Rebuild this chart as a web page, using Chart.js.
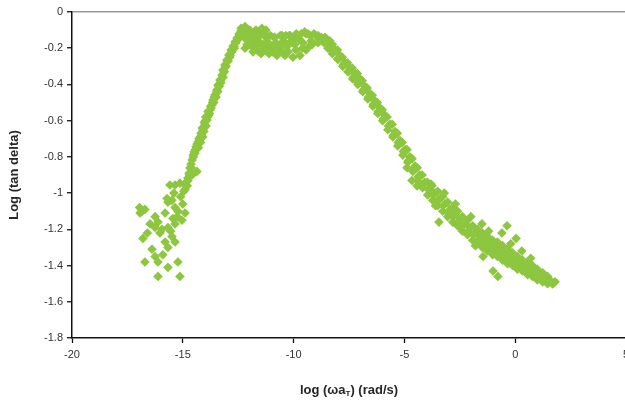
<!DOCTYPE html>
<html>
<head>
<meta charset="utf-8">
<script src="https://cdn.jsdelivr.net/npm/chart.js@4.4.1/dist/chart.umd.min.js"></script>
<style>
  html, body { margin: 0; padding: 0; background: #fff; overflow: hidden; }
  #wrap { width: 640px; height: 406px; }
</style>
</head>
<body>
<div id="wrap"><canvas id="c" width="640" height="406"></canvas></div>
<script>
// Tick values for both axes
const xTickValues = [-20, -15, -10, -5, 0, 5];
const yTickValues = [0, -0.2, -0.4, -0.6, -0.8, -1, -1.2, -1.4, -1.6, -1.8];

// Low-frequency end: scattered points
const lowX = [-16.93,-16.84,-16.71,-16.48,-16.25,-16.12,-15.80,-15.67,-15.35,-15.49,-15.71,-15.35,-15.13,-14.90,-14.77,-14.58,-14.36,-15.58,-15.94,-15.67,-15.35,-15.04,-14.90,-15.22,-15.49,-15.67,-15.35,-15.80,-16.03,-16.25,-16.39,-16.25,-16.12,-16.80,-16.71,-16.12,-15.67,-15.22,-15.13,-16.60,-16.95,-15.90,
  -15.45,-15.25,-15.10,-15.55,-15.00,-15.40];
const lowY = [-1.11,-1.10,-1.09,-1.17,-1.13,-1.16,-1.11,-1.05,-1.08,-1.04,-1.03,-0.955,-0.945,-0.98,-0.93,-0.90,-0.88,-0.955,-1.20,-1.19,-1.17,-1.15,-1.11,-1.10,-1.24,-1.30,-1.27,-1.27,-1.22,-1.19,-1.31,-1.35,-1.38,-1.25,-1.38,-1.46,-1.41,-1.38,-1.46,-1.22,-1.08,-1.34,
  -1.14,-1.13,-1.02,-1.21,-1.06,-1.00];

// Rising flank
const riseX = [-14.90,-14.77,-14.68,-14.58,-14.49,-14.40,-14.31,-14.22,-14.09,-14.00,-13.91,-13.82,-13.77,-13.68,-13.64,-13.55,-13.46,-13.41,-13.32,-13.23,-13.19,-13.10,-13.01,-12.92,-12.82,-12.73,-12.64,-12.55,-12.46,-12.37,-12.28,
  -14.95,-14.80,-14.70,-14.62,-14.52,-14.45,-14.35,-14.25,-14.15,-14.05,-13.95,-13.88,-13.80,-13.72,-13.60,-13.50,-13.42,-13.35,-13.28,-13.18,-13.12,-13.05,-12.97,-12.88,-12.78,-12.68,-12.60,-12.50,-12.42,
  -14.85,-14.72,-14.63,-14.53,-14.44,-14.36,-14.27,-14.18,-14.12,-14.03,-13.97,-13.86,-13.74,-13.66,-13.58,-13.48,-13.38,-13.30,-13.21,-13.14,-13.06,-12.96,-12.86,-12.77,-12.69,-12.59,-12.51,-12.43,-12.33,-14.30,-14.20,-14.10,-13.98];
const riseY = [-0.955,-0.917,-0.861,-0.817,-0.773,-0.745,-0.718,-0.690,-0.652,-0.624,-0.596,-0.569,-0.541,-0.513,-0.486,-0.458,-0.431,-0.403,-0.375,-0.348,-0.320,-0.292,-0.265,-0.237,-0.210,-0.188,-0.166,-0.144,-0.121,-0.105,-0.094,
  -0.99,-0.96,-0.90,-0.86,-0.80,-0.78,-0.74,-0.71,-0.68,-0.66,-0.63,-0.58,-0.56,-0.53,-0.50,-0.47,-0.44,-0.41,-0.39,-0.36,-0.33,-0.30,-0.27,-0.25,-0.22,-0.20,-0.17,-0.15,-0.13,
  -0.94,-0.89,-0.84,-0.79,-0.76,-0.73,-0.70,-0.67,-0.64,-0.61,-0.58,-0.55,-0.52,-0.50,-0.47,-0.44,-0.41,-0.38,-0.36,-0.33,-0.30,-0.27,-0.24,-0.21,-0.19,-0.16,-0.14,-0.12,-0.10,-0.75,-0.72,-0.69,-0.60];

// Plateau around the maximum
const peakX = [-12.37,-12.19,-11.97,-11.70,-11.43,-11.25,
  -11.97,-11.61,-11.25,-10.88,-10.52,-10.16,-9.80,-9.44,-9.08,
  -12.10,-11.74,-11.38,-11.02,-10.66,-10.30,-9.94,-9.58,-9.21,-8.85,
  -12.19,-11.83,-11.47,-11.11,-10.75,-10.39,-10.03,-9.71,-9.44,-9.17,-8.90,-8.63,
  -9.26,-8.90,-8.58,-8.36,
  -11.85,-11.50,-11.15,-10.80,-10.45,-10.10,-9.75,-12.30,-12.05,
  -12.25,-12.00,-11.80,-11.55,-11.30,-11.05,-10.85,-10.60,-10.35,-10.20,-9.98,-9.88,-9.65,-9.50,-9.35,-9.00,-8.75,-8.50,
  -12.15,-11.90,-11.65,-11.40,-11.20,-10.95,-10.70,-10.50,-10.25,-9.90,-9.60,-9.30,
  -11.60,-11.35,-11.10,-10.90,-10.60,-10.35,-10.05];
const peakY = [-0.09,-0.08,-0.10,-0.10,-0.09,-0.10,
  -0.14,-0.14,-0.14,-0.14,-0.13,-0.13,-0.13,-0.12,-0.12,
  -0.18,-0.19,-0.19,-0.20,-0.20,-0.19,-0.18,-0.17,-0.16,-0.15,
  -0.20,-0.22,-0.23,-0.23,-0.24,-0.24,-0.25,-0.24,-0.21,-0.18,-0.17,-0.17,
  -0.13,-0.13,-0.14,-0.16,
  -0.16,-0.17,-0.17,-0.17,-0.16,-0.16,-0.15,-0.13,-0.12,
  -0.11,-0.13,-0.13,-0.12,-0.12,-0.13,-0.14,-0.13,-0.13,-0.13,-0.14,-0.12,-0.12,-0.11,-0.12,-0.13,-0.14,-0.15,
  -0.15,-0.19,-0.21,-0.21,-0.21,-0.22,-0.22,-0.22,-0.22,-0.21,-0.20,-0.19,
  -0.17,-0.18,-0.18,-0.19,-0.18,-0.18,-0.17];

// Falling flank towards high frequency
const fallX = [-8.36,-8.13,-7.91,-7.68,-7.45,-7.23,-7.00,-6.78,-6.55,-6.33,-6.10,-5.88,-5.65,-5.42,-5.20,-4.97,-4.75,-4.52,-4.30,-4.07,-3.84,-3.62,-3.39,-3.17,-2.94,-2.72,-2.49,-2.27,-2.04,-1.81,-1.59,-1.36,-1.14,-0.91,-0.69,-0.46,-0.23,-0.01,0.22,0.44,0.67,0.89,1.12,1.35,1.57,1.80,
  -8.50,-8.25,-8.02,-7.80,-7.57,-7.35,-7.12,-6.90,-6.68,-6.45,-6.22,-6.00,-5.78,-5.55,-5.32,-5.10,-4.88,-4.65,-4.42,-4.20,-3.96,-3.75,-3.50,-3.28,-3.05,-2.82,-2.60,-2.38,-2.15,-1.92,-1.70,-1.48,-1.25,-1.02,-0.80,-0.57,-0.34,-0.12,0.10,0.33,0.56,0.78,1.00,1.24,1.46,
  -8.25,-8.02,-7.78,-7.55,-7.33,-7.10,-6.88,-6.65,-6.42,-6.20,-5.98,-5.75,-5.52,-5.30,-5.07,-4.85,-4.62,-4.40,-4.18,-3.95,-3.72,-3.50,-3.27,-3.05,-2.82,-2.60,-2.38,-2.15,-1.92,-1.70,-1.48,-1.25,-1.02,-0.80,-0.57,-0.34,-0.12,0.10,0.33,0.56,0.78,1.00,1.24,1.46,1.68,
  -8.45,-8.20,-7.98,-7.75,-7.52,-7.30,-7.08,-6.85,-6.62,-6.40,-6.18,-5.95,-5.72,-5.50,-5.28,-5.05,-4.82,-4.60,-4.38,-4.15,-3.92,-3.70,-3.48,-3.25,-3.02,-2.80,-2.58,-2.35,-2.12,-1.90,-1.68,-1.45,-1.22,-1.00,-0.78,-0.55,-0.32,-0.10,0.12,0.35,0.58,0.80,1.02,1.25,1.50,1.70,
  -4.88,-4.66,-4.43,-3.44,-1.45,-1.00,-0.78,-0.37,0.04,-1.50,-0.60,
  -3.80,-3.20,-2.70,-2.00,-1.20,-0.90,-0.20,0.30,0.70,-2.50,-3.60,-1.80];
const fallY = [-0.18,-0.21,-0.24,-0.28,-0.31,-0.34,-0.37,-0.41,-0.45,-0.49,-0.53,-0.57,-0.62,-0.66,-0.71,-0.76,-0.80,-0.85,-0.90,-0.94,-0.98,-1.00,-1.03,-1.06,-1.09,-1.12,-1.14,-1.17,-1.19,-1.22,-1.24,-1.26,-1.28,-1.30,-1.31,-1.33,-1.35,-1.36,-1.38,-1.40,-1.41,-1.43,-1.45,-1.46,-1.48,-1.49,
  -0.16,-0.18,-0.21,-0.25,-0.28,-0.31,-0.34,-0.38,-0.42,-0.46,-0.50,-0.54,-0.58,-0.62,-0.67,-0.72,-0.76,-0.81,-0.86,-0.90,-0.94,-0.96,-0.99,-1.02,-1.05,-1.08,-1.10,-1.13,-1.15,-1.18,-1.20,-1.22,-1.24,-1.26,-1.27,-1.29,-1.31,-1.33,-1.35,-1.37,-1.38,-1.40,-1.42,-1.44,-1.46,
  -0.23,-0.26,-0.30,-0.33,-0.37,-0.40,-0.44,-0.48,-0.52,-0.56,-0.60,-0.65,-0.69,-0.74,-0.79,-0.83,-0.88,-0.93,-0.97,-1.01,-1.04,-1.07,-1.10,-1.13,-1.16,-1.18,-1.21,-1.23,-1.26,-1.28,-1.30,-1.32,-1.34,-1.35,-1.37,-1.39,-1.40,-1.42,-1.43,-1.45,-1.46,-1.48,-1.49,-1.50,-1.50,
  -0.20,-0.22,-0.26,-0.29,-0.33,-0.36,-0.39,-0.43,-0.47,-0.51,-0.55,-0.59,-0.63,-0.68,-0.72,-0.77,-0.82,-0.87,-0.91,-0.95,-0.98,-1.01,-1.04,-1.07,-1.11,-1.13,-1.16,-1.18,-1.21,-1.23,-1.26,-1.28,-1.29,-1.31,-1.33,-1.34,-1.36,-1.38,-1.39,-1.41,-1.43,-1.44,-1.46,-1.47,-1.49,-1.50,
  -0.86,-0.93,-0.96,-1.16,-1.35,-1.43,-1.46,-1.18,-1.25,-1.17,-1.22,
  -0.95,-1.00,-1.06,-1.13,-1.21,-1.33,-1.28,-1.32,-1.36,-1.19,-1.07,-1.29];

function pairs(xs, ys) { return xs.map((x, i) => ({ x: x, y: ys[i] })); }
const points = [].concat(pairs(lowX, lowY), pairs(riseX, riseY), pairs(peakX, peakY), pairs(fallX, fallY));

const FONT = '"Liberation Sans", Arial, sans-serif';

// x-axis title with a subscript T
const xTitlePlugin = {
  id: 'xTitle',
  afterDraw(chart) {
    const ctx = chart.ctx;
    const area = chart.chartArea;
    const cx = (area.left + area.right) / 2;
    const y = 394;
    const big = 'bold 13px ' + FONT;
    const small = 'bold 8px ' + FONT;
    const a = 'log (\u03c9a', sub = 'T', b = ') (rad/s)';
    ctx.save();
    ctx.fillStyle = '#262626';
    ctx.textBaseline = 'alphabetic';
    ctx.textAlign = 'left';
    ctx.font = big; const wa = ctx.measureText(a).width; const wb = ctx.measureText(b).width;
    ctx.font = small; const ws = ctx.measureText(sub).width;
    let x = cx - (wa + ws + wb) / 2;
    ctx.font = big; ctx.fillText(a, x, y); x += wa;
    ctx.font = small; ctx.fillText(sub, x, y + 2); x += ws;
    ctx.font = big; ctx.fillText(b, x, y);
    ctx.restore();
  }
};

const fmt = v => String(Math.round(v * 10) / 10);

new Chart(document.getElementById('c'), {
  type: 'scatter',
  data: {
    datasets: [{
      data: points,
      pointStyle: 'rectRot',
      pointRadius: 4.8,
      backgroundColor: '#8DC63F',
      borderColor: '#8DC63F',
      borderWidth: 0
    }]
  },
  options: {
    responsive: false,
    animation: false,
    events: [],
    layout: { padding: { top: 12, right: 14, left: 0, bottom: 0 } },
    plugins: { legend: { display: false }, tooltip: { enabled: false } },
    scales: {
      x: {
        type: 'linear',
        min: -20, max: 5,
        afterBuildTicks: s => { s.ticks = xTickValues.map(v => ({ value: v })); },
        afterFit: s => { s.height = 68; },
        border: { color: '#111', width: 1.5 },
        grid: { drawOnChartArea: false, tickLength: 5, tickColor: '#111', tickWidth: 1.3 },
        ticks: { padding: 5, color: '#333', font: { family: FONT, size: 11 }, maxRotation: 0, callback: fmt },
        title: { display: false }
      },
      y: {
        type: 'linear',
        min: -1.8, max: 0,
        afterBuildTicks: s => { s.ticks = yTickValues.map(v => ({ value: v })); },
        afterFit: s => { s.width = 72; },
        border: { color: '#111', width: 1.5 },
        grid: {
          drawOnChartArea: true,
          color: c => (c.tick && c.tick.value === 0 ? '#9a9a9a' : 'rgba(0,0,0,0)'),
          lineWidth: 1.5,
          tickLength: 5, tickColor: '#111', tickWidth: 1.3
        },
        ticks: { padding: 4, color: '#333', font: { family: FONT, size: 11 }, callback: fmt },
        title: {
          display: true, text: 'Log (tan delta)', color: '#262626',
          font: { family: FONT, size: 13, weight: 'bold' },
          padding: { top: 7, bottom: 0 }
        }
      }
    }
  },
  plugins: [xTitlePlugin]
});
</script>
</body>
</html>
